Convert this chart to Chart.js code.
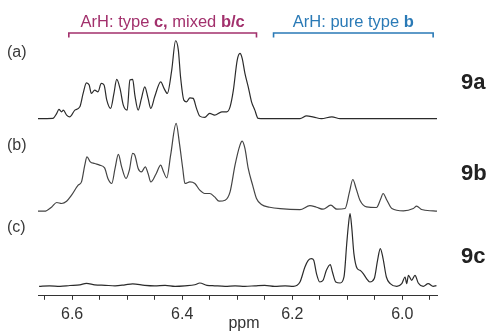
<!DOCTYPE html>
<html>
<head>
<meta charset="utf-8">
<script src="https://cdn.jsdelivr.net/npm/chart.js@4.4.1/dist/chart.umd.min.js"></script>
<style>
  html, body { margin: 0; padding: 0; background: #fff; }
  #wrap { width: 490px; height: 331px; position: relative; }
</style>
</head>
<body>
<div id="wrap"><canvas id="nmrChart"></canvas></div>
<script>
// 1H NMR, aromatic region - chemical shift (ppm) and intensity (arb. units)

// (a) 9a
const ppmA = [6.662, 6.635, 6.628, 6.624, 6.619, 6.616, 6.610, 6.604, 6.595, 6.586, 6.580, 6.574, 6.569, 6.565, 6.559,
  6.553, 6.547, 6.542, 6.537, 6.530, 6.524, 6.519, 6.513, 6.507, 6.500, 6.495, 6.490, 6.486, 6.480, 6.474, 6.468,
  6.462, 6.457, 6.450, 6.439, 6.433, 6.427, 6.419, 6.412, 6.407, 6.403, 6.397, 6.392, 6.386, 6.380, 6.374, 6.368,
  6.359, 6.350, 6.341, 6.328, 6.319, 6.313, 6.307, 6.300, 6.295, 6.291, 6.286, 6.280, 6.274, 6.268, 6.262, 6.250,
  6.186, 6.174, 6.161, 6.147, 6.128, 6.113, 5.937];
const intA = [0, 0.2, 5.2, 9.2, 6.8, 8.5, 3.5, 1.8, 8.5, 11.8, 25.2, 35.8, 33.5, 25.2, 28.5,
  26.8, 35.2, 33.5, 18.5, 10.2, 25.2, 39.2, 30.2, 13.5, 8.5, 38.5, 39.2, 23.5, 8.5, 20.2, 31.8,
  20.2, 10.2, 21.8, 36.8, 30.2, 25.2, 48.5, 77.8, 68.5, 41.8, 18.5, 16.8, 20.8, 20.2, 10.2, 2.5,
  1.2, 5.2, 3.5, 6.8, 6.8, 11.8, 28.5, 58.5, 65.2, 60.2, 45.2, 31.8, 16.8, 8.5, 0.2, 0,
  0, 2.8, 1.5, 0, 1.8, 0, 0];

// (b) 9b
const ppmB = [6.662, 6.650, 6.637, 6.628, 6.619, 6.610, 6.601, 6.589, 6.583, 6.577, 6.573, 6.567, 6.559, 6.550, 6.541,
  6.535, 6.528, 6.522, 6.516, 6.510, 6.502, 6.496, 6.490, 6.486, 6.480, 6.474, 6.467, 6.462, 6.457, 6.448, 6.439,
  6.435, 6.428, 6.421, 6.411, 6.405, 6.399, 6.395, 6.386, 6.377, 6.368, 6.359, 6.350, 6.341, 6.333, 6.322, 6.313,
  6.304, 6.295, 6.291, 6.286, 6.280, 6.272, 6.265, 6.256, 6.241, 6.222, 6.186, 6.168, 6.156, 6.144, 6.130, 6.119,
  6.104, 6.096, 6.090, 6.084, 6.077, 6.065, 6.047, 6.039, 6.035, 6.028, 6.019, 5.998, 5.980, 5.974, 5.965, 5.944, 5.937];
const intB = [0, 0, 4.3, 8.7, 7.7, 10, 16, 26, 29.3, 46, 54.3, 49.3, 47.7, 46, 43.3,
  32.7, 27.7, 42.7, 56.7, 44.3, 32.7, 41, 57.7, 56, 42.7, 39.3, 44.3, 37.7, 29.3, 36.7, 46,
  41, 33.3, 56, 87.7, 67.7, 42.7, 27.7, 29.3, 27.7, 21, 17.7, 17.7, 14.3, 10, 11, 19.3,
  46, 66, 70, 62.7, 42.7, 26, 12.7, 6.7, 4, 2.5, 1.5, 5.5, 4, 2, 6, 2,
  2.7, 19.3, 31.7, 22.7, 11, 4.3, 3.7, 12.7, 17.7, 11, 2.7, 0.3, 2.7, 5, 1.7, 0.3, 0];

// (c) 9c
const ppmC = [6.660, 6.641, 6.622, 6.604, 6.586, 6.574, 6.559, 6.540, 6.522, 6.504, 6.490, 6.468, 6.450, 6.431, 6.413,
  6.395, 6.377, 6.368, 6.355, 6.341, 6.322, 6.304, 6.286, 6.268, 6.250, 6.232, 6.213, 6.198, 6.186, 6.177, 6.171,
  6.165, 6.161, 6.156, 6.150, 6.144, 6.138, 6.131, 6.127, 6.121, 6.113, 6.106, 6.101, 6.098, 6.095, 6.092, 6.088,
  6.082, 6.077, 6.071, 6.065, 6.059, 6.051, 6.045, 6.040, 6.035, 6.029, 6.022, 6.010, 6.001, 5.995, 5.992, 5.989,
  5.983, 5.977, 5.971, 5.962, 5.953, 5.944, 5.938];
const intC = [0, 0.5, 0, 0.8, 1.5, 3, 1.5, 1, 0.5, 1.5, 2.5, 1, 0.5, 1, 0,
  0.5, 1.5, 3.3, 1, 0.5, 0, 0.5, 0, 0.5, 1, 0, 0.5, 0, 4.3, 19.3, 26,
  27.7, 26, 12.7, 4.3, 6, 16, 21.7, 14.3, 4.3, 3.3, 9.3, 42.7, 61, 72.7, 59.3, 32.7,
  17.7, 16, 12.7, 7.7, 4.3, 7.7, 26, 37.7, 27.7, 9.3, 2.7, 0, 2.7, 9.3, 2.7, 11,
  6, 11, 3.3, 0, 2.7, 0, 0.7];

const traceNames = ['(a)', '(b)', '(c)'];
const compoundNames = ['9a', '9b', '9c'];
const axisTicks = [6.6, 6.4, 6.2, 6.0];

// annotation brackets above the spectra [from ppm, to ppm]
const bracketRanges = [[6.606, 6.265], [6.234, 5.944]];

// vertical offset of each trace in the stack (same units as intensity)
const traceOffsets = [177, 84.5, 9.5];

const spectra = [[ppmA, intA], [ppmB, intB], [ppmC, intC]];

const datasets = spectra.map(([ppm, inten], i) => ({
  label: compoundNames[i],
  data: ppm.map((p, k) => ({ x: p, y: inten[k] + traceOffsets[i] })),
  borderColor: i === 1 ? '#444' : '#2b2b2b',
  borderWidth: 1.2,
  pointRadius: 0,
  cubicInterpolationMode: 'monotone',
  fill: false,
}));

// text + brackets drawn over the chart
const overlay = {
  id: 'overlay',
  afterDraw(chart) {
    const ctx = chart.ctx;
    const xs = chart.scales.x;
    ctx.save();

    // (a) (b) (c)
    ctx.font = '16px "Liberation Sans", Arial, sans-serif';
    ctx.fillStyle = '#3a3a3a';
    ctx.textBaseline = 'middle';
    ctx.textAlign = 'left';
    const labelY = [53, 145.5, 228];
    traceNames.forEach((t, i) => ctx.fillText(t, 7, labelY[i]));

    // 9a 9b 9c
    ctx.font = 'bold 22px "Liberation Sans", Arial, sans-serif';
    ctx.fillStyle = '#222';
    const compY = [83, 174, 257];
    compoundNames.forEach((t, i) => ctx.fillText(t, 461, compY[i]));

    // ppm
    ctx.font = '16px "Liberation Sans", Arial, sans-serif';
    ctx.fillStyle = '#333';
    ctx.textAlign = 'center';
    ctx.textBaseline = 'alphabetic';
    ctx.fillText('ppm', 244, 328);

    // brackets
    const colors = ['#a2306c', '#2a7ab6'];
    const texts = [
      [['ArH: type ', false], ['c,', true], [' mixed ', false], ['b/c', true]],
      [['ArH: pure type ', false], ['b', true]],
    ];
    bracketRanges.forEach(([a, b], i) => {
      const x1 = xs.getPixelForValue(a);
      const x2 = xs.getPixelForValue(b);
      ctx.strokeStyle = colors[i];
      ctx.lineWidth = 1.6;
      ctx.beginPath();
      ctx.moveTo(x1, 37.5);
      ctx.lineTo(x1, 33);
      ctx.lineTo(x2, 33);
      ctx.lineTo(x2, 37.5);
      ctx.stroke();

      // mixed regular / bold label
      const fnt = (bold) => (bold ? 'bold ' : '') + '16.5px "Liberation Sans", Arial, sans-serif';
      let total = 0;
      texts[i].forEach(([s, bold]) => { ctx.font = fnt(bold); total += ctx.measureText(s).width; });
      let x = (x1 + x2) / 2 - total / 2;
      ctx.fillStyle = colors[i];
      ctx.textAlign = 'left';
      texts[i].forEach(([s, bold]) => {
        ctx.font = fnt(bold);
        ctx.fillText(s, x, 26.5);
        x += ctx.measureText(s).width;
      });
    });
    ctx.restore();
  }
};

new Chart(document.getElementById('nmrChart'), {
  type: 'line',
  data: { datasets },
  options: {
    responsive: true,
    maintainAspectRatio: false,
    animation: false,
    layout: { padding: { left: 38, right: 53, top: 0, bottom: 2 } },
    plugins: {
      legend: { display: false },
      tooltip: { enabled: false }
    },
    scales: {
      x: {
        type: 'linear',
        reverse: true,
        min: 5.937,
        max: 6.662,
        border: { color: '#333', width: 1 },
        grid: { drawOnChartArea: false, color: '#333', tickLength: 4, lineWidth: 1 },
        ticks: {
          stepSize: 0.05,
          includeBounds: false,
          maxRotation: 0,
          autoSkip: false,
          padding: 5,
          color: '#333',
          font: { family: '"Liberation Sans", Arial, sans-serif', size: 16 },
          callback: (v) => {
            const hit = axisTicks.find(t => Math.abs(t - v) < 1e-6);
            return hit !== undefined ? hit.toFixed(1) : '';
          }
        }
      },
      y: {
        display: false,
        min: 0,
        max: 295.5
      }
    }
  },
  plugins: [overlay]
});
</script>
</body>
</html>
